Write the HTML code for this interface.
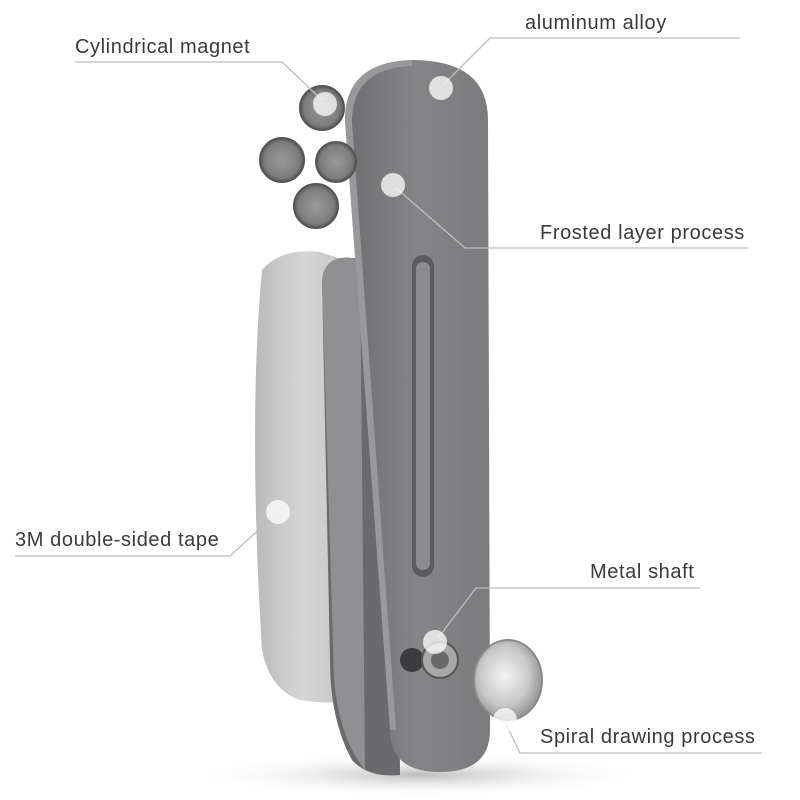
<!DOCTYPE html>
<html><head><meta charset="utf-8"><style>
html,body{margin:0;padding:0;background:#fff;}
svg{display:block}
text{font-family:"Liberation Sans",sans-serif;font-size:20px;letter-spacing:0.6px;fill:#3a3a3a;}
</style></head><body>
<svg width="800" height="800" viewBox="0 0 800 800" xmlns="http://www.w3.org/2000/svg">
<defs>
<radialGradient id="sh" cx="0.5" cy="0.5" r="0.5">
<stop offset="0" stop-color="#bdbdbd"/><stop offset="1" stop-color="#fff" stop-opacity="0"/></radialGradient>
<linearGradient id="plate" x1="0" y1="0" x2="1" y2="0">
<stop offset="0" stop-color="#6e6e70"/><stop offset="0.5" stop-color="#858587"/><stop offset="1" stop-color="#7b7b7d"/></linearGradient>
<linearGradient id="tape" x1="0" y1="0" x2="1" y2="0">
<stop offset="0" stop-color="#b9b9b9"/><stop offset="0.5" stop-color="#d6d6d6"/><stop offset="1" stop-color="#c4c4c4"/></linearGradient>
<radialGradient id="disc" cx="0.45" cy="0.45" r="0.6">
<stop offset="0" stop-color="#f4f4f4"/><stop offset="0.6" stop-color="#c9c9c9"/><stop offset="1" stop-color="#8a8a8a"/></radialGradient>
<radialGradient id="mag" cx="0.5" cy="0.5" r="0.5">
<stop offset="0" stop-color="#9a9a9a"/><stop offset="0.8" stop-color="#7d7d7d"/><stop offset="1" stop-color="#5a5a5a"/></radialGradient>
</defs>
<ellipse cx="420" cy="775" rx="230" ry="22" fill="url(#sh)"/>
<path d="M262 270 Q280 248 320 252 L345 260 L350 700 Q330 705 300 700 Q270 690 262 650 Q248 420 262 270 Z" fill="url(#tape)"/>
<path d="M322 280 Q325 255 352 258 L395 262 L400 775 Q368 778 352 760 Q330 720 330 660 Z" fill="#6a6a6c"/>
<path d="M322 280 Q325 255 352 258 L360 262 L365 770 Q340 740 334 680 Z" fill="#909092"/>
<path d="M345 120 Q345 62 412 60 Q488 60 488 120 L490 730 Q490 772 440 772 Q390 772 390 730 Z" fill="url(#plate)"/>
<path d="M345 120 Q345 62 412 60 L412 66 Q352 68 352 122 L396 730 L390 730 Z" fill="#99999b"/>
<rect x="412" y="255" width="22" height="322" rx="11" fill="#5c5c5e"/>
<rect x="416" y="262" width="14" height="308" rx="7" fill="#8c8c8e"/>
<g stroke="#555" stroke-width="2">
<circle cx="322" cy="108" r="22" fill="url(#mag)"/>
<circle cx="282" cy="160" r="22" fill="url(#mag)"/>
<circle cx="336" cy="162" r="20" fill="url(#mag)"/>
<circle cx="316" cy="206" r="22" fill="url(#mag)"/>
</g>
<circle cx="412" cy="660" r="12" fill="#3c3c3e"/>
<circle cx="440" cy="660" r="18" fill="#a8a8a8" stroke="#555" stroke-width="2"/>
<circle cx="440" cy="660" r="9" fill="#6a6a6a"/>
<ellipse cx="508" cy="680" rx="34" ry="40" fill="url(#disc)" stroke="#8a8a8a" stroke-width="2"/>
<g stroke="#bdbdbd" stroke-width="1.3" fill="none">
<polyline points="75,62 282,62 322,100"/>
<polyline points="740,38 490,38 444,84"/>
<polyline points="748,248 465,248 396,188"/>
<polyline points="15,556 230,556 276,514"/>
<polyline points="700,588 476,588 438,638"/>
<polyline points="762,753 520,753 505,722"/>
</g>
<g fill="#fff" fill-opacity="0.75">
<circle cx="325" cy="104" r="12"/>
<circle cx="441" cy="88" r="12"/>
<circle cx="393" cy="185" r="12"/>
<circle cx="278" cy="512" r="12"/>
<circle cx="435" cy="642" r="12"/>
<circle cx="505" cy="720" r="12"/>
</g>
<text x="75" y="53">Cylindrical magnet</text>
<text x="525" y="29">aluminum alloy</text>
<text x="540" y="239">Frosted layer process</text>
<text x="15" y="546">3M double-sided tape</text>
<text x="590" y="578">Metal shaft</text>
<text x="540" y="743">Spiral drawing process</text>
</svg>
</body></html>
